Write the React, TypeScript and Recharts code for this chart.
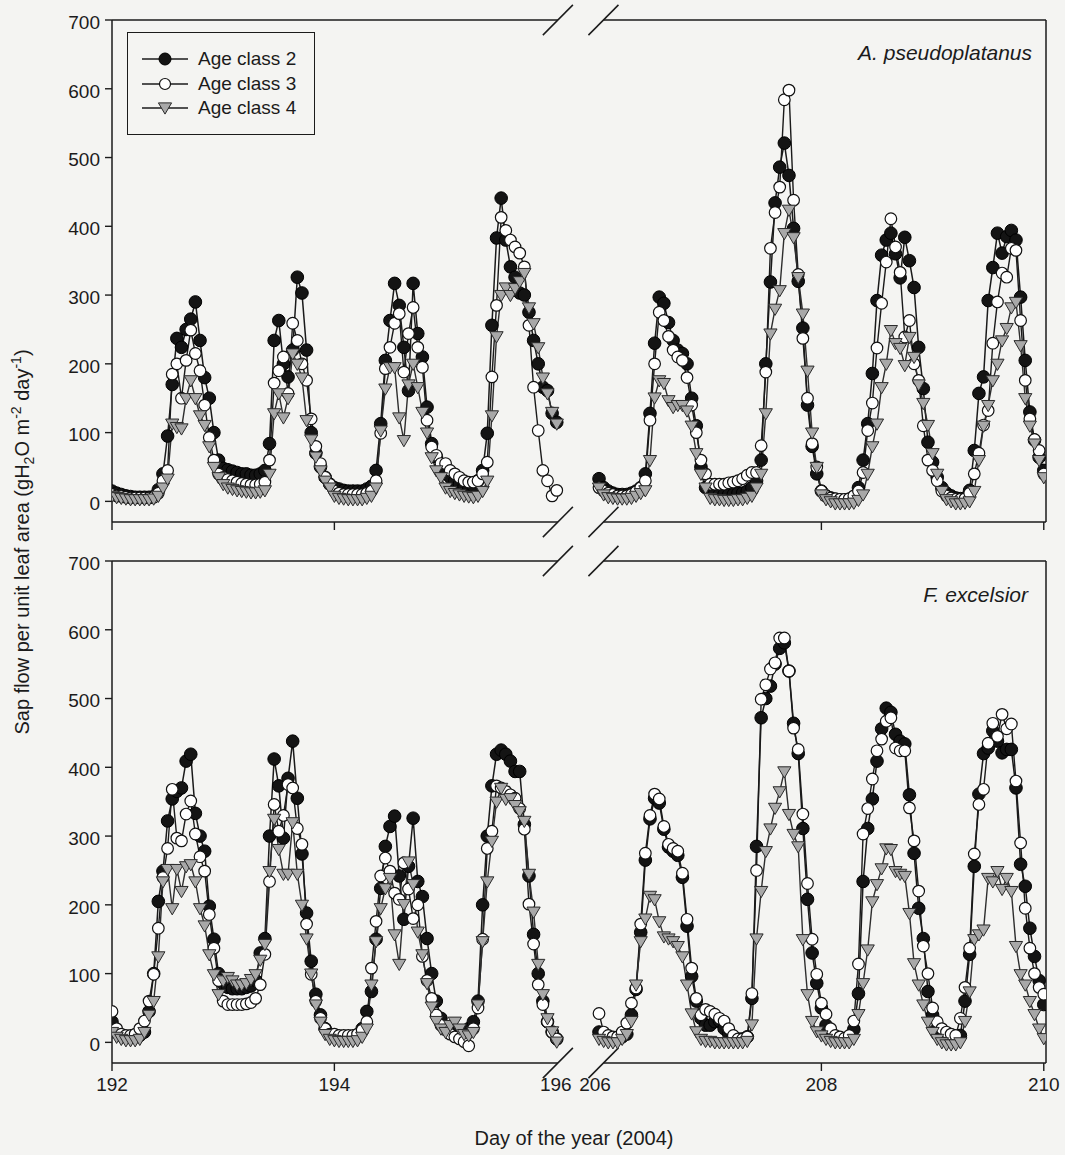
import React from 'react';
import { LineChart, Line, XAxis, YAxis, ReferenceLine, Legend } from 'recharts';

// hourly sap flow, one inner array per day (0h..23h, last day also has 24h)
// A. pseudoplatanus, days 192-195
const acerC2a = [
  [15, 12, 10, 8, 7, 6, 6, 6, 6, 7, 17, 40, 95, 170, 237, 224, 250, 265, 290, 234, 180, 150, 100, 60],
  [48, 46, 44, 42, 40, 40, 38, 38, 40, 45, 84, 234, 263, 200, 181, 220, 326, 303, 220, 100, 70, 50, 35, 25],
  [20, 18, 16, 15, 15, 15, 15, 18, 22, 45, 113, 205, 263, 317, 285, 224, 161, 317, 244, 210, 137, 84, 65, 50],
  [40, 35, 30, 25, 22, 20, 22, 30, 45, 99, 256, 383, 441, 380, 341, 326, 303, 300, 275, 234, 200, 166, 161, 128, 115],
];
const acerC3a = [
  [10, 8, 7, 6, 5, 5, 5, 5, 5, 6, 12, 30, 45, 185, 200, 150, 205, 249, 215, 190, 140, 93, 60, 40],
  [35, 32, 30, 28, 26, 25, 24, 24, 25, 28, 60, 172, 190, 210, 157, 259, 234, 200, 176, 120, 80, 55, 35, 25],
  [15, 12, 10, 10, 10, 10, 10, 12, 15, 30, 99, 193, 224, 259, 273, 188, 244, 282, 224, 195, 118, 79, 67, 55],
  [55, 45, 40, 35, 30, 28, 28, 30, 40, 57, 181, 285, 413, 394, 380, 370, 361, 341, 256, 166, 103, 45, 30, 8, 16],
];
const acerC4a = [
  [8, 6, 5, 4, 3, 3, 3, 3, 3, 4, 8, 20, 33, 113, 108, 106, 150, 176, 150, 125, 111, 80, 50, 35],
  [25, 20, 18, 16, 15, 14, 13, 13, 14, 16, 40, 128, 157, 122, 150, 215, 200, 180, 118, 90, 65, 45, 30, 20],
  [8, 5, 4, 3, 3, 3, 3, 5, 8, 20, 103, 164, 195, 195, 122, 89, 170, 200, 166, 130, 100, 64, 45, 35],
  [20, 15, 12, 10, 8, 7, 6, 8, 15, 30, 125, 240, 300, 311, 300, 310, 320, 332, 282, 259, 224, 180, 157, 130, 113],
];
// A. pseudoplatanus, days 206-209
const acerC2b = [
  [33, 20, 15, 12, 10, 10, 10, 12, 15, 20, 40, 128, 230, 297, 288, 260, 234, 220, 215, 200, 150, 110, 50, 20],
  [15, 12, 10, 10, 10, 10, 12, 12, 15, 20, 30, 60, 200, 319, 434, 486, 521, 474, 397, 320, 252, 140, 80, 40],
  [15, 8, 5, 3, 2, 2, 3, 5, 20, 60, 113, 186, 292, 358, 380, 390, 360, 325, 384, 350, 311, 224, 164, 86],
  [57, 35, 20, 12, 8, 5, 4, 5, 16, 74, 157, 181, 292, 340, 390, 361, 385, 394, 380, 297, 205, 130, 89, 64, 45],
];
const acerC3b = [
  [20, 15, 12, 10, 8, 8, 8, 10, 14, 20, 30, 118, 200, 275, 263, 240, 220, 210, 205, 180, 140, 100, 60, 40],
  [25, 25, 25, 25, 27, 28, 30, 33, 38, 42, 42, 81, 188, 368, 420, 457, 584, 598, 438, 330, 237, 150, 84, 50],
  [15, 8, 5, 4, 3, 3, 4, 8, 15, 42, 103, 143, 223, 288, 348, 411, 370, 333, 239, 263, 200, 176, 110, 60],
  [45, 30, 15, 8, 5, 3, 3, 4, 12, 40, 70, 111, 132, 230, 290, 332, 326, 368, 365, 263, 176, 120, 90, 74, 40],
];
const acerC4b = [
  [20, 10, 6, 5, 4, 4, 4, 5, 8, 12, 16, 60, 151, 176, 172, 147, 137, 140, 140, 132, 110, 70, 40, 20],
  [5, 3, 3, 2, 2, 2, 3, 3, 5, 8, 20, 40, 128, 244, 280, 307, 390, 424, 384, 326, 273, 190, 100, 50],
  [10, 3, 0, -3, -3, -3, -3, -2, 2, 10, 40, 80, 113, 166, 200, 249, 230, 223, 198, 239, 210, 170, 143, 111],
  [70, 40, 15, 3, 0, -3, -3, -2, 0, 15, 60, 110, 140, 176, 200, 234, 252, 282, 290, 227, 150, 110, 84, 60, 35],
];

// F. excelsior, days 192-195
const fraxC2a = [
  [30, 15, 10, 8, 8, 8, 10, 15, 45, 100, 205, 249, 322, 354, 365, 370, 409, 419, 333, 300, 278, 198, 150, 100],
  [85, 80, 78, 78, 78, 80, 82, 90, 130, 151, 300, 412, 373, 297, 384, 438, 355, 274, 188, 118, 70, 40, 20, 12],
  [10, 8, 8, 8, 8, 10, 20, 45, 74, 150, 224, 285, 314, 329, 242, 179, 256, 326, 234, 212, 151, 100, 60, 35],
  [20, 15, 12, 10, 12, 20, 30, 60, 200, 300, 373, 419, 425, 419, 409, 394, 394, 317, 242, 157, 100, 60, 30, 15, 5],
];
const fraxC3a = [
  [45, 20, 12, 10, 10, 12, 20, 31, 60, 99, 166, 240, 282, 368, 297, 293, 332, 351, 303, 270, 249, 186, 137, 90],
  [60, 55, 55, 55, 55, 56, 58, 64, 84, 128, 234, 346, 307, 330, 375, 370, 311, 288, 172, 99, 60, 35, 20, 12],
  [12, 10, 10, 10, 10, 12, 18, 30, 108, 176, 242, 268, 249, 217, 208, 261, 223, 180, 200, 125, 90, 64, 40, 25],
  [18, 12, 8, 5, 1, -5, 20, 50, 150, 282, 307, 373, 370, 365, 360, 355, 340, 310, 201, 143, 84, 55, 30, 15, 5],
];
const fraxC4a = [
  [15, 8, 5, 3, 3, 3, 5, 15, 40, 60, 125, 234, 252, 195, 252, 220, 256, 259, 234, 195, 170, 128, 99, 70],
  [90, 95, 90, 84, 84, 86, 92, 99, 120, 143, 249, 325, 281, 245, 245, 320, 245, 200, 151, 100, 55, 30, 12, 5],
  [3, 2, 2, 2, 2, 3, 8, 20, 84, 147, 195, 224, 239, 157, 114, 201, 263, 230, 161, 128, 86, 52, 31, 20],
  [15, 25, 30, 20, 12, 10, 15, 55, 147, 234, 293, 350, 370, 354, 355, 345, 336, 322, 245, 190, 114, 70, 35, 16, 1],
];
// F. excelsior, days 206-209
const fraxC2b = [
  [15, 10, 8, 6, 6, 8, 12, 40, 77, 160, 265, 325, 355, 348, 310, 284, 278, 272, 240, 169, 96, 60, 35, 25],
  [25, 30, 31, 20, 12, 8, 5, 5, 8, 64, 285, 472, 500, 518, 550, 573, 581, 540, 464, 420, 311, 208, 130, 86],
  [50, 25, 12, 8, 5, 5, 8, 19, 71, 234, 311, 354, 409, 456, 486, 480, 448, 438, 434, 360, 275, 195, 151, 74],
  [40, 20, 10, 6, 4, 5, 10, 60, 128, 256, 361, 420, 428, 453, 438, 421, 426, 426, 370, 259, 227, 166, 125, 90, 55],
];
const fraxC3b = [
  [42, 15, 10, 8, 8, 15, 28, 57, 79, 172, 275, 330, 361, 354, 314, 288, 282, 278, 246, 179, 108, 64, 40, 48],
  [45, 41, 35, 31, 20, 10, 5, 5, 8, 71, 250, 499, 520, 543, 552, 588, 588, 540, 457, 426, 332, 231, 150, 99],
  [57, 41, 20, 10, 8, 6, 10, 31, 114, 303, 340, 383, 424, 441, 467, 472, 428, 424, 424, 341, 293, 220, 140, 100],
  [50, 30, 20, 15, 12, 10, 35, 80, 137, 274, 346, 368, 435, 464, 445, 477, 456, 463, 380, 290, 195, 137, 100, 80, 70],
];
const fraxC4b = [
  [5, 2, 0, 0, 0, 5, 12, 31, 84, 147, 180, 213, 208, 176, 154, 151, 147, 140, 125, 84, 42, 16, 5, 2],
  [2, 0, 0, 0, 0, 0, 0, 0, 2, 26, 151, 220, 278, 311, 341, 365, 394, 332, 303, 285, 150, 70, 31, 16],
  [10, 5, 2, 0, 0, 0, 0, 5, 41, 86, 135, 205, 230, 253, 282, 281, 249, 245, 242, 188, 115, 84, 55, 30],
  [15, 5, 0, -3, -3, -3, 0, 31, 74, 150, 157, 164, 239, 234, 249, 223, 239, 220, 140, 99, 84, 60, 41, 20, 6],
];

const seriesNames = ['Age class 2', 'Age class 3', 'Age class 4'];
// plotted x of each segment start (day 192 and day 206, axis broken in between)
const segmentStarts = [0, 4.38];
const xTicks = [0, 2, 4, 4.38, 6.38, 8.38];
const xTickLabels = ['192', '194', '196', '206', '208', '210'];
const breakLabels = ['196', '206'];
const yTicks = [0, 100, 200, 300, 400, 500, 600, 700];

const X_MAX = 8.4;
const Y_MIN = -30;
const Y_MAX = 700;
const BREAK_L = 4.01;
const BREAK_R = 4.42;
const INK = '#1b1b1b';
const FONT = '"Liberation Sans", Arial, Helvetica, sans-serif';
const BG = '#f4f4f2';

type Days = number[][];

function buildRows(c2: Days[], c3: Days[], c4: Days[]) {
  const rows: any[] = [];
  segmentStarts.forEach((start, s) => {
    if (s > 0) rows.push({ x: (4 + start) / 2, c2: null, c3: null, c4: null });
    c2[s].forEach((day, d) => {
      const n = Math.max(day.length, c3[s][d].length, c4[s][d].length);
      for (let h = 0; h < n; h++) {
        rows.push({
          x: start + d + h / 24,
          c2: day[h] ?? null,
          c3: c3[s][d][h] ?? null,
          c4: c4[s][d][h] ?? null,
        });
      }
    });
  });
  return rows;
}

const acerRows = buildRows([acerC2a, acerC2b], [acerC3a, acerC3b], [acerC4a, acerC4b]);
const fraxRows = buildRows([fraxC2a, fraxC2b], [fraxC3a, fraxC3b], [fraxC4a, fraxC4b]);

const triangle = (cx: number, cy: number, s = 6.6) =>
  `M${cx - s},${cy - s * 0.7}L${cx + s},${cy - s * 0.7}L${cx},${cy + s}Z`;

function TriangleDot(props: any) {
  const { cx, cy, index } = props;
  if (cx == null || cy == null) return <g key={`t-${index}`} />;
  return <path key={`t-${index}`} d={triangle(cx, cy)} fill="#a8a8a8" stroke="#2a2a2a" strokeWidth={1} />;
}

function DayTick(props: any) {
  const { x, y, payload, showLabel } = props;
  const i = xTicks.findIndex((t) => Math.abs(t - payload.value) < 1e-6);
  const label = xTickLabels[i];
  // the two labels at the break sit a little closer together
  const nudge = label === '206' ? -4 : label === '196' ? -1 : 0;
  return (
    <g>
      {!breakLabels.includes(label) && <line x1={x} x2={x} y1={y} y2={y + 8} stroke={INK} strokeWidth={1.4} />}
      {showLabel && (
        <text x={x + nudge} y={y + 28} textAnchor="middle" fill={INK} fontSize={19} fontFamily={FONT}>
          {label}
        </text>
      )}
    </g>
  );
}

function LegendBox() {
  const icons = [
    <circle cx={23} cy={9} r={6} fill="#141414" stroke="#000" />,
    <circle cx={23} cy={9} r={5.5} fill="#fff" stroke="#111" strokeWidth={1.2} />,
    <path d={triangle(23, 8.5)} fill="#a8a8a8" stroke="#2a2a2a" />,
  ];
  return (
    <div
      style={{
        width: 188,
        height: 103,
        boxSizing: 'border-box',
        border: `1.5px solid ${INK}`,
        padding: '14px 0 0 14px',
        background: BG,
        fontFamily: FONT,
        fontSize: 19,
        color: INK,
      }}
    >
      {seriesNames.map((name, i) => (
        <div key={name} style={{ display: 'flex', alignItems: 'center', height: 24.5 }}>
          <svg width={46} height={18} style={{ display: 'block' }}>
            <line x1={0} x2={46} y1={9} y2={9} stroke={INK} strokeWidth={1.4} />
            {icons[i]}
          </svg>
          <span style={{ marginLeft: 10, lineHeight: '20px' }}>{name}</span>
        </div>
      ))}
    </div>
  );
}

function frameLines() {
  const seg = (x1: number, y1: number, x2: number, y2: number, key: string, overflow = false) => (
    <ReferenceLine
      key={key}
      segment={[{ x: x1, y: y1 }, { x: x2, y: y2 }]}
      stroke={INK}
      strokeWidth={1.5}
      ifOverflow={overflow ? 'visible' : 'discard'}
    />
  );
  const dx = 0.135;
  const dy = 22;
  return [
    seg(0, Y_MAX, BREAK_L, Y_MAX, 'top-l'),
    seg(BREAK_R, Y_MAX, X_MAX, Y_MAX, 'top-r'),
    seg(0, Y_MIN, BREAK_L, Y_MIN, 'bot-l'),
    seg(BREAK_R, Y_MIN, X_MAX, Y_MIN, 'bot-r'),
    seg(X_MAX, Y_MIN, X_MAX, Y_MAX, 'right'),
    ...[BREAK_L, BREAK_R].flatMap((bx) =>
      [Y_MAX, Y_MIN].map((by) => seg(bx - dx, by - dy, bx + dx, by + dy, `sl-${bx}-${by}`, true))
    ),
  ];
}

function Panel({ rows, top, showLegend, showXLabels }: { rows: any[]; top: number; showLegend?: boolean; showXLabels?: boolean }) {
  return (
    <div style={{ position: 'absolute', left: 0, top }}>
      <LineChart width={1065} height={560} data={rows} margin={{ top: 20, right: 19, bottom: 8, left: 52 }}>
        <XAxis
          type="number"
          dataKey="x"
          domain={[0, X_MAX]}
          ticks={xTicks}
          interval={0}
          allowDataOverflow
          axisLine={false}
          tickLine={false}
          tickSize={0}
          tickMargin={0}
          height={30}
          tick={(p: any) => <DayTick {...p} showLabel={showXLabels} />}
        />
        <YAxis
          type="number"
          domain={[Y_MIN, Y_MAX]}
          ticks={yTicks}
          interval={0}
          allowDataOverflow
          width={60}
          tickSize={7}
          tickMargin={5}
          axisLine={{ stroke: INK, strokeWidth: 1.5 }}
          tickLine={{ stroke: INK, strokeWidth: 1.4 }}
          tick={{ fill: INK, fontSize: 19, fontFamily: FONT, dy: 2 }}
        />
        {frameLines()}
        <Line
          dataKey="c2"
          name={seriesNames[0]}
          stroke="#1a1a1a"
          strokeWidth={1.5}
          dot={{ r: 6.3, fill: '#141414', stroke: '#000', strokeWidth: 1 }}
          activeDot={false}
          isAnimationActive={false}
        />
        <Line
          dataKey="c3"
          name={seriesNames[1]}
          stroke="#1a1a1a"
          strokeWidth={1.4}
          dot={{ r: 5.8, fill: '#fff', stroke: '#111', strokeWidth: 1.2 }}
          activeDot={false}
          isAnimationActive={false}
        />
        <Line
          dataKey="c4"
          name={seriesNames[2]}
          stroke="#2e2e2e"
          strokeWidth={1.4}
          dot={(p: any) => <TriangleDot {...p} />}
          activeDot={false}
          isAnimationActive={false}
        />
        {showLegend && (
          <Legend
            layout="horizontal"
            verticalAlign="middle"
            align="center"
            wrapperStyle={{ left: 127, top: 32, width: 188 }}
            content={() => <LegendBox />}
          />
        )}
      </LineChart>
    </div>
  );
}

export default function App() {
  return (
    <div style={{ position: 'absolute', left: 0, top: 0, width: 1065, height: 1155, background: BG }}>
      <Panel rows={acerRows} top={0} showLegend />
      <Panel rows={fraxRows} top={541} showXLabels />
      <svg width={1065} height={1155} style={{ position: 'absolute', left: 0, top: 0, pointerEvents: 'none' }}>
        <g fontFamily={FONT} fill={INK}>
          <text x={1032} y={60} textAnchor="end" fontSize={21} fontStyle="italic">
            A. pseudoplatanus
          </text>
          <text x={1028} y={602} textAnchor="end" fontSize={21} fontStyle="italic">
            F. excelsior
          </text>
          <text x={574} y={1145} textAnchor="middle" fontSize={20}>
            Day of the year (2004)
          </text>
          <text transform="translate(29,542) rotate(-90)" textAnchor="middle" fontSize={20}>
            Sap flow per unit leaf area (gH
            <tspan fontSize={14} dy={5}>2</tspan>
            <tspan dy={-5}>O m</tspan>
            <tspan fontSize={14} dy={-8}>-2</tspan>
            <tspan dy={8}> day</tspan>
            <tspan fontSize={14} dy={-8}>-1</tspan>
            <tspan dy={8}>)</tspan>
          </text>
        </g>
      </svg>
    </div>
  );
}
